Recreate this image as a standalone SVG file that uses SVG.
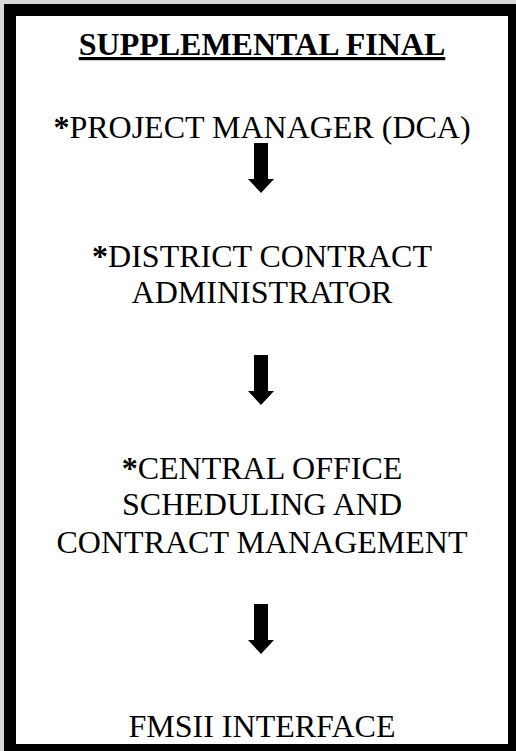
<svg xmlns="http://www.w3.org/2000/svg" width="516" height="751" viewBox="0 0 516 751">
<style>
  text { font-family: 'Liberation Serif', 'Times New Roman', Times, serif; font-size: 32px; fill: #000; text-anchor: middle; }
  .b { font-weight: bold; }
</style>
<defs>
  <path id="arr" d="M-7,0 H7 V36 H13 L0,50 L-13,36 H-7 Z"/>
</defs>
<rect x="0" y="0" width="516" height="751" fill="#d9d9d9"/>
<rect id="frame" x="10" y="10" width="504" height="740" fill="#fff" stroke="#000" stroke-width="12"/>
<g id="title">
  <text class="b" x="262" y="55" text-decoration="underline">SUPPLEMENTAL FINAL</text>
</g>
<g id="node1">
  <text x="262" y="138"><tspan class="b">*</tspan>PROJECT MANAGER (DCA)</text>
</g>
<g id="node2">
  <text x="262" y="267"><tspan class="b">*</tspan>DISTRICT CONTRACT</text>
  <text x="262" y="303">ADMINISTRATOR</text>
</g>
<g id="node3">
  <text x="262" y="479"><tspan class="b">*</tspan>CENTRAL OFFICE</text>
  <text x="262" y="515">SCHEDULING AND</text>
  <text x="262" y="553">CONTRACT MANAGEMENT</text>
</g>
<g id="node4">
  <text x="262" y="737">FMSII INTERFACE</text>
</g>
<g id="connectors" fill="#000">
  <use href="#arr" x="261" y="143"/>
  <use href="#arr" x="261" y="355"/>
  <use href="#arr" x="261" y="604"/>
</g>
</svg>
